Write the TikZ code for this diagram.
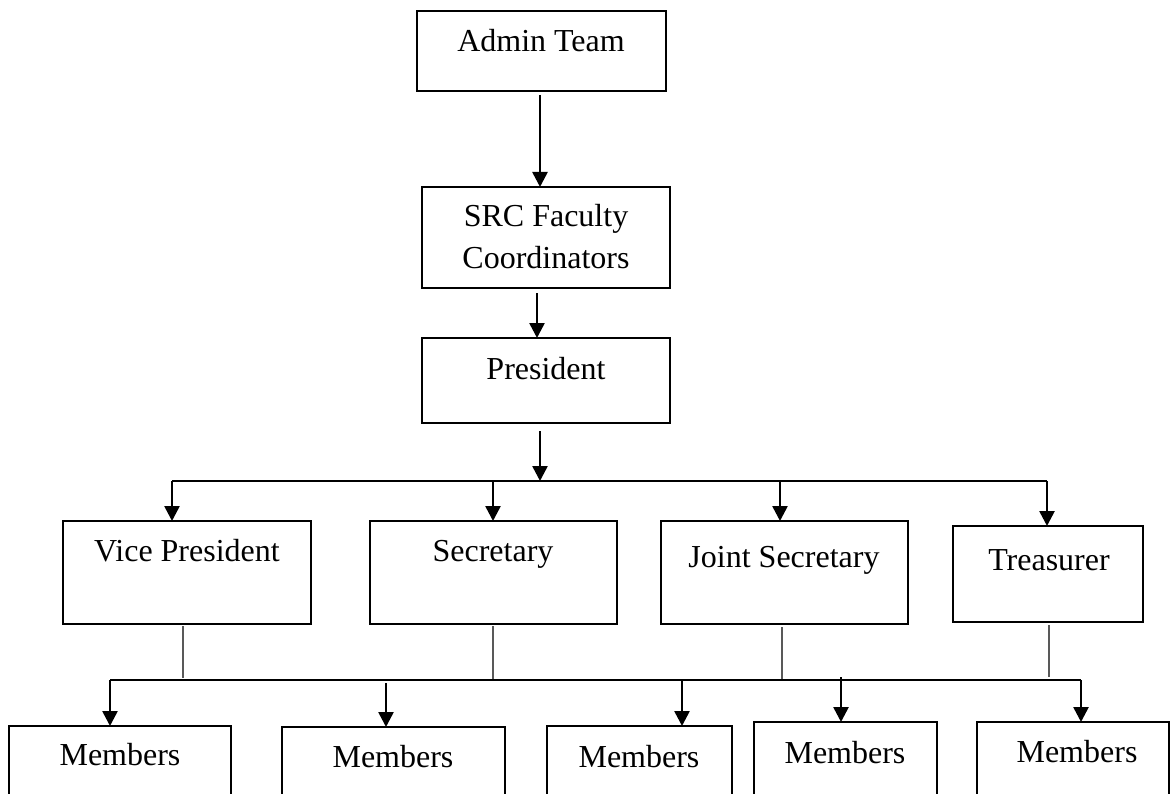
\documentclass[tikz,border=0pt]{standalone}
\usepackage{fontspec}
\setmainfont{Liberation Serif}
\usetikzlibrary{arrows.meta,calc}
\begin{document}
\begin{tikzpicture}[x=1pt,y=-1pt,
  box/.style={draw, line width=2.6pt, inner sep=0pt, outer sep=0pt},
  lbl/.style={font=\fontsize{32}{38}\selectfont, inner sep=0pt, anchor=base},
  arr/.style={line width=2.6pt, -{Triangle[width=15pt,length=15pt]}},
  bus/.style={line width=1.4pt},
  stub/.style={line width=1.1pt, draw=black!65}]
\clip (0,0) rectangle (1172,794);
\fill[white] (0,0) rectangle (1172,794);
% boxes
\node[box, minimum width=249pt, minimum height=80pt]  (admin) at (541.5,51) {};
\node[box, minimum width=248pt, minimum height=101pt] (src)   at (546,237.5) {};
\node[box, minimum width=248pt, minimum height=85pt]  (pres)  at (546,380.5) {};
\node[box, minimum width=248pt, minimum height=103pt] (vp)    at (187,572.5) {};
\node[box, minimum width=247pt, minimum height=103pt] (sec)   at (493.5,572.5) {};
\node[box, minimum width=247pt, minimum height=103pt] (js)    at (784.5,572.5) {};
\node[box, minimum width=190pt, minimum height=96pt]  (tr)    at (1048,574) {};
\node[box, minimum width=222pt, minimum height=84pt]  (m1)    at (120,768) {};
\node[box, minimum width=223pt, minimum height=83pt]  (m2)    at (393.5,768.5) {};
\node[box, minimum width=185pt, minimum height=84pt]  (m3)    at (639.5,768) {};
\node[box, minimum width=183pt, minimum height=88pt]  (m4)    at (845.5,766) {};
\node[box, minimum width=192pt, minimum height=88pt]  (m5)    at (1073,766) {};
% labels
\node[lbl] (tadmin) at (541,52)  {Admin Team};
\node[lbl] (tsrc1)  at (546,227) {SRC Faculty};
\node[lbl] (tsrc2)  at (546,269) {Coordinators};
\node[lbl] (tpres)  at (546,379) {President};
\node[lbl] (tvp)    at (187,561) {Vice President};
\node[lbl] (tsec)   at (493,561) {Secretary};
\node[lbl] (tjs)    at (784,567) {Joint Secretary};
\node[lbl] (ttr)    at (1049,570) {Treasurer};
\node[lbl] (tm1)    at (120,765) {Members};
\node[lbl] (tm2)    at (393,767) {Members};
\node[lbl] (tm3)    at (639,767) {Members};
\node[lbl] (tm4)    at (845,763) {Members};
\node[lbl] (tm5)    at (1077,762) {Members};
% top chain
\draw[arr, shorten <=4pt] ([xshift=-1.5pt]admin.south) -- ([xshift=-1.5pt]admin.south |- src.north);
\draw[arr, shorten <=5pt] ([xshift=-9pt]src.south) -- ([xshift=-9pt]src.south |- pres.north);
% upper bus
\coordinate (b1) at (172,481);
\coordinate (b2) at (493,481);
\coordinate (b3) at (780,481);
\coordinate (b4) at (1047,481);
\coordinate (bp) at (540,481);
\draw[arr, shorten <=8pt] ([xshift=-6pt]pres.south) -- ([xshift=-6pt]pres.south |- bp);
\draw[bus] (b1) -- (b4);
\draw[arr] (b1) -- (b1 |- vp.north);
\draw[arr] (b2) -- (b2 |- sec.north);
\draw[arr] (b3) -- (b3 |- js.north);
\draw[arr] (b4) -- (b4 |- tr.north);
% stubs
\coordinate (s1) at (183,678);
\coordinate (s2) at (493,679);
\coordinate (s3) at (782,679);
\coordinate (s4) at (1049,677);
\draw[stub, shorten <=2pt] (s1 |- vp.south) -- (s1);
\draw[stub, shorten <=2pt] (s2 |- sec.south) -- (s2);
\draw[stub, shorten <=3pt] (s3 |- js.south) -- (s3);
\draw[stub, shorten <=3pt] (s4 |- tr.south) -- (s4);
% lower bus
\coordinate (c1) at (110,680);
\coordinate (c2) at (386,683);
\coordinate (c3) at (682,680);
\coordinate (c4) at (841,677);
\coordinate (c5) at (1081,680);
\draw[bus] (c1) -- (c5);
\draw[arr] (c1) -- (c1 |- m1.north);
\draw[arr] (c2) -- (c2 |- m2.north);
\draw[arr] (c3) -- (c3 |- m3.north);
\draw[arr] (c4) -- (c4 |- m4.north);
\draw[arr] (c5) -- (c5 |- m5.north);
\end{tikzpicture}
\end{document}
